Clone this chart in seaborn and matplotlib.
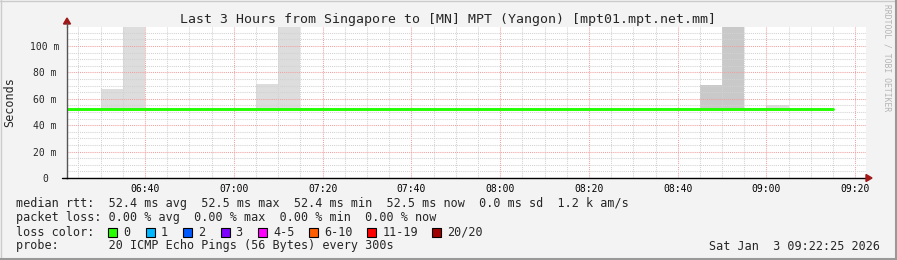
import matplotlib
matplotlib.use("Agg")
import matplotlib.pyplot as plt
from matplotlib.patches import Polygon, Rectangle
from matplotlib.lines import Line2D
from matplotlib.ticker import FixedLocator
import seaborn as sns
import pandas as pd

# ---------------- data ----------------
title = "Last 3 Hours from Singapore to [MN] MPT (Yangon) [mpt01.mpt.net.mm]"
x_start = "06:22:25"
x_end = "09:22:25"

median_times = ["06:20", "06:25", "06:30", "06:35", "06:40", "06:45", "06:50", "06:55",
                "07:00", "07:05", "07:10", "07:15", "07:20", "07:25", "07:30", "07:35",
                "07:40", "07:45", "07:50", "07:55", "08:00", "08:05", "08:10", "08:15",
                "08:20", "08:25", "08:30", "08:35", "08:40", "08:45", "08:50", "08:55",
                "09:00", "09:05", "09:10", "09:15"]
median_ms = [52.4, 52.4, 52.4, 52.4, 52.4, 52.4, 52.4, 52.4,
             52.4, 52.4, 52.4, 52.4, 52.4, 52.4, 52.4, 52.4,
             52.4, 52.4, 52.4, 52.4, 52.4, 52.4, 52.4, 52.4,
             52.4, 52.4, 52.4, 52.4, 52.4, 52.4, 52.4, 52.4,
             52.5, 52.5, 52.5, 52.5]

smoke_times = ["06:30", "06:35", "07:05", "07:10", "08:45", "08:50", "09:00"]
smoke_low_ms = [52.0, 52.0, 52.0, 52.0, 52.0, 52.0, 52.0]
smoke_high_ms = [67.5, 130.0, 71.0, 130.0, 70.5, 130.0, 55.0]
smoke_density = [1, 1, 1, 1, 2, 2, 1]

x_tick_labels = ["06:40", "07:00", "07:20", "07:40", "08:00", "08:20", "08:40", "09:00", "09:20"]
y_tick_values = [0, 20, 40, 60, 80, 100]
y_tick_labels = ["0", "20 m", "40 m", "60 m", "80 m", "100 m"]
y_max_ms = 114.4
y_label = "Seconds"

legend_lines = [
    "median rtt:  52.4 ms avg  52.5 ms max  52.4 ms min  52.5 ms now  0.0 ms sd  1.2 k am/s",
    "packet loss: 0.00 % avg  0.00 % max  0.00 % min  0.00 % now",
    "loss color:",
    "probe:       20 ICMP Echo Pings (56 Bytes) every 300s",
]
loss_labels = ["0", "1", "2", "3", "4-5", "6-10", "11-19", "20/20"]
loss_colors = ["#26ff00", "#00b8ff", "#0059ff", "#7e00ff", "#ff00ff", "#ff5e00", "#ff0000", "#a10000"]
timestamp = "Sat Jan  3 09:22:25 2026"
watermark = "RRDTOOL / TOBI OETIKER"

# ---------------- helpers ----------------
def to_min(s):
    parts = [int(p) for p in s.split(":")]
    m = parts[0] * 60 + parts[1]
    if len(parts) > 2:
        m += parts[2] / 60.0
    return m

W, H = 897, 260
def fx(px):
    return px / W
def fy(py):
    return 1 - py / H

sns.set_style("white")
plt.rcParams["font.family"] = ["DejaVu Sans Mono", "DejaVu Sans"]

fig = plt.figure(figsize=(W / 100, H / 100), dpi=100)
fig.patch.set_facecolor("#f3f3f3")

ax_l, ax_r, ax_t, ax_b = 67, 866, 27, 178
ax = fig.add_axes([fx(ax_l), fy(ax_b), (ax_r - ax_l) / W, (ax_b - ax_t) / H])
ax.set_facecolor("white")

x0, x1 = to_min(x_start), to_min(x_end)
ax.set_xlim(x0, x1)
ax.set_ylim(0, y_max_ms)

# smoke
shade = {1: "#dddddd", 2: "#c9c9c9"}
sx = [to_min(t) for t in smoke_times]
ax.bar(sx, [h - l for h, l in zip(smoke_high_ms, smoke_low_ms)], bottom=smoke_low_ms,
       width=5, align="edge", color=[shade[d] for d in smoke_density],
       linewidth=0, zorder=1)

# median line
df = pd.DataFrame({"t": [to_min(t) for t in median_times], "ms": median_ms})
sns.lineplot(data=df, x="t", y="ms", ax=ax, color="#22ff00", linewidth=2.1,
             drawstyle="steps-post", estimator=None, zorder=3)
ax.set_xlabel("")
ax.set_ylabel("")

# grid
major_x = [to_min(t) for t in x_tick_labels]
minor_x = [to_min("06:25") + 5 * i for i in range(0, 36)]
ax.xaxis.set_major_locator(FixedLocator(major_x))
ax.xaxis.set_minor_locator(FixedLocator(minor_x))
ax.set_xticklabels(x_tick_labels)
ax.yaxis.set_major_locator(FixedLocator(y_tick_values))
ax.yaxis.set_minor_locator(FixedLocator([5 * i for i in range(1, 23)]))
ax.set_yticklabels(y_tick_labels)
ax.set_axisbelow(False)
ax.grid(which="minor", color="#d2d2d2", linestyle=(0, (1, 1)), linewidth=0.75, zorder=2)
ax.grid(which="major", color="#f2a0a0", linestyle=(0, (1, 1)), linewidth=0.75, zorder=2.1)

ax.tick_params(axis="x", which="major", length=2, width=0.7, direction="out",
               pad=2.6, labelsize=7, colors="#000000")
ax.tick_params(axis="x", which="minor", length=0)
ax.tick_params(axis="y", which="both", length=0, pad=15.8, labelsize=7)
for lab in ax.get_yticklabels():
    lab.set_horizontalalignment("center")

for s in ["top", "right"]:
    ax.spines[s].set_visible(False)
ax.spines["bottom"].set_color("#000000")
ax.spines["bottom"].set_linewidth(1.0)
ax.spines["bottom"].set_zorder(4)
ax.spines["left"].set_color("#555555")
ax.spines["left"].set_linewidth(1.0)
ax.spines["left"].set_zorder(4)

# axis extensions and arrows
fig.add_artist(Line2D([fx(62), fx(ax_l)], [fy(ax_b), fy(ax_b)], color="#000000", lw=1.0))
fig.add_artist(Line2D([fx(ax_l), fx(ax_l)], [fy(ax_t), fy(23)], color="#555555", lw=1.0))
arrow_c = "#a01818"
fig.add_artist(Polygon([[fx(ax_r), fy(ax_b - 3.5)], [fx(ax_r), fy(ax_b + 3.5)], [fx(ax_r + 6), fy(ax_b)]],
                       closed=True, color=arrow_c, transform=fig.transFigure))
fig.add_artist(Polygon([[fx(ax_l - 3.5), fy(24)], [fx(ax_l + 3.5), fy(24)], [fx(ax_l), fy(18)]],
                       closed=True, color=arrow_c, transform=fig.transFigure))

# texts
fig.text(fx(448), fy(19), title, ha="center", va="center", fontsize=9.5)
fig.text(fx(10), fy(102), y_label, ha="center", va="center", rotation=90, fontsize=8.5)
fig.text(fx(887), fy(4), watermark, ha="center", va="top", rotation=270,
         fontsize=5.8, color="#b4b4b4")

rows_y = [204, 218, 232, 246]
for line, yy in zip(legend_lines, rows_y):
    fig.text(fx(16), fy(yy), line, ha="left", va="center", fontsize=8.5)

sq_x = 108.3
for lab, col in zip(loss_labels, loss_colors):
    fig.add_artist(Rectangle((fx(sq_x), fy(236.5)), 9 / W, 9 / H, transform=fig.transFigure,
                             facecolor=col, edgecolor="#000000", linewidth=0.8))
    fig.text(fx(sq_x + 15), fy(232), lab, ha="left", va="center", fontsize=8.5)
    sq_x += 30.5 + 6.9 * len(lab)

fig.text(fx(880), fy(246), timestamp, ha="right", va="center", fontsize=8.5)

# frame shading
fig.add_artist(Line2D([0, 1], [fy(0.5), fy(0.5)], color="#cbcbcb", lw=1.0))
fig.add_artist(Line2D([fx(0.5), fx(0.5)], [0, 1], color="#cbcbcb", lw=1.0))
fig.add_artist(Line2D([0, 1], [fy(H - 1), fy(H - 1)], color="#999999", lw=1.5))
fig.add_artist(Line2D([fx(W - 1), fx(W - 1)], [0, 1], color="#999999", lw=1.5))

fig.savefig("out.png", dpi=100, facecolor=fig.get_facecolor())
